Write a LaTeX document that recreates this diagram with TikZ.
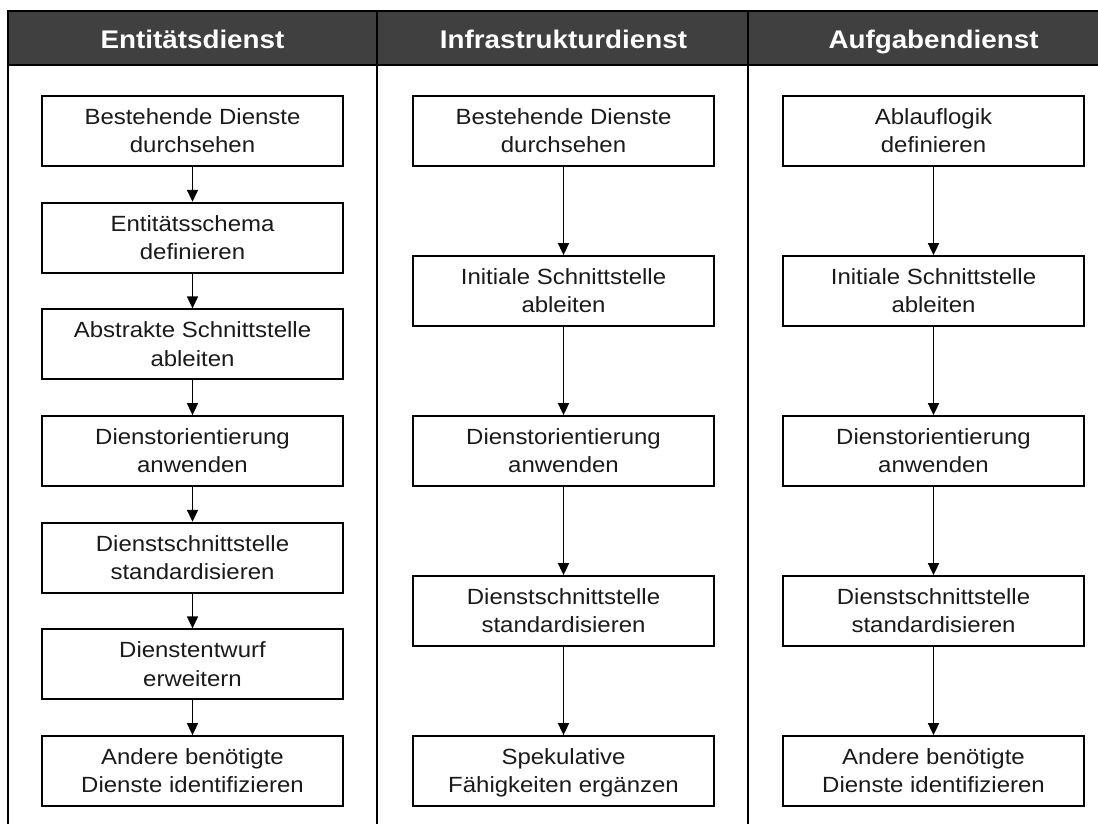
\documentclass[tikz,border=0pt]{standalone}
\usepackage{fontspec}
\setmainfont[FakeStretch=1.09]{Liberation Sans}
\usetikzlibrary{arrows.meta}
\definecolor{hdrgray}{HTML}{404040}
\definecolor{txt}{HTML}{1A1A1A}
\newcommand\twol[2]{\rule[-4pt]{0pt}{23.4pt}#1\\#2\rule[-4pt]{0pt}{23.4pt}}
\begin{document}
\begin{tikzpicture}[x=1pt,y=-1pt,
  stepbox/.style={draw=black, line width=1.8pt, minimum width=301pt, minimum height=70pt,
    inner sep=0pt, align=center, text=txt, font=\fontsize{22}{28.3}\selectfont},
  hdr/.style={text=white, font=\bfseries\fontsize{25.5}{30}\selectfont, inner sep=0pt, anchor=base},
  flow/.style={-{Triangle[width=11pt,length=12pt]}, line width=1.7pt},
  frame/.style={line width=2pt, draw=black}]
\useasboundingbox (0,0) rectangle (1098,823);
% header band
\fill[hdrgray] (8,11) rectangle (1100,65);
\draw[frame] (8,11) -- (1100,11);
\draw[frame] (8,65) -- (1100,65);
\draw[frame] (8,10) -- (8,825);
\draw[frame] (377,10) -- (377,825);
\draw[frame] (748,10) -- (748,825);
% headers
\node[hdr] (h1) at (192.5,48) {Entitätsdienst};
\node[hdr] (h2) at (563.5,48) {Infrastrukturdienst};
\node[hdr] (h3) at (933.5,48) {Aufgabendienst};
% column 1
\node[stepbox] (a1) at (192.5,131) {\twol{Bestehende Dienste}{durchsehen}};
\node[stepbox] (a2) at (192.5,237.7) {\twol{Entitätsschema}{definieren}};
\node[stepbox] (a3) at (192.5,344.3) {\twol{Abstrakte Schnittstelle}{ableiten}};
\node[stepbox] (a4) at (192.5,451) {\twol{Dienstorientierung}{anwenden}};
\node[stepbox] (a5) at (192.5,557.7) {\twol{Dienstschnittstelle}{standardisieren}};
\node[stepbox] (a6) at (192.5,664.3) {\twol{Dienstentwurf}{erweitern}};
\node[stepbox] (a7) at (192.5,771) {\twol{Andere benötigte}{Dienste identifizieren}};
% column 2
\node[stepbox] (b1) at (563.5,131) {\twol{Bestehende Dienste}{durchsehen}};
\node[stepbox] (b2) at (563.5,291) {\twol{Initiale Schnittstelle}{ableiten}};
\node[stepbox] (b3) at (563.5,451) {\twol{Dienstorientierung}{anwenden}};
\node[stepbox] (b4) at (563.5,611) {\twol{Dienstschnittstelle}{standardisieren}};
\node[stepbox] (b5) at (563.5,771) {\twol{Spekulative}{Fähigkeiten ergänzen}};
% column 3
\node[stepbox] (c1) at (933.5,131) {\twol{Ablauflogik}{definieren}};
\node[stepbox] (c2) at (933.5,291) {\twol{Initiale Schnittstelle}{ableiten}};
\node[stepbox] (c3) at (933.5,451) {\twol{Dienstorientierung}{anwenden}};
\node[stepbox] (c4) at (933.5,611) {\twol{Dienstschnittstelle}{standardisieren}};
\node[stepbox] (c5) at (933.5,771) {\twol{Andere benötigte}{Dienste identifizieren}};
% arrows
\foreach \u/\v in {a1/a2,a2/a3,a3/a4,a4/a5,a5/a6,a6/a7,b1/b2,b2/b3,b3/b4,b4/b5,c1/c2,c2/c3,c3/c4,c4/c5}
  \draw[flow] (\u.south) -- (\v.north);
\end{tikzpicture}
\end{document}
